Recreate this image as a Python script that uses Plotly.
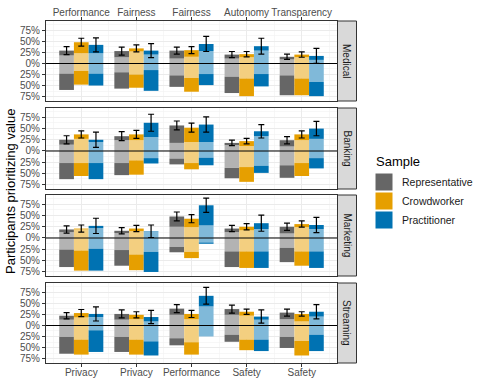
import plotly.graph_objects as go

# ---------------- data ----------------
domains = ["Medical", "Banking", "Marketing", "Streaming"]
top_values = ["Performance", "Fairness", "Fairness", "Autonomy", "Transparency"]
bottom_values = ["Privacy", "Privacy", "Performance", "Safety", "Safety"]
samples = ["Representative", "Crowdworker", "Practitioner"]

# rows = domains, columns = value pairs; percentages
# share prioritizing the top value (total), and its "light" (weaker) part
rep_top = [[29, 28, 29, 20, 15], [25, 33, 57, 18, 24], [19, 16, 48, 21, 25], [22, 26, 38, 37, 29]]
rep_top_light = [[18, 14, 11, 11, 9], [14, 24, 18, 13, 10], [13, 11, 25, 13, 10], [13, 13, 24, 24, 14]]
rep_bottom_light = [[23, 20, 27, 30, 27], [27, 27, 17, 38, 32], [26, 27, 20, 30, 22], [26, 26, 29, 21, 26]]
rep_bottom = [[60, 57, 53, 67, 72], [63, 54, 30, 61, 60], [65, 62, 32, 65, 54], [64, 60, 45, 37, 51]]
rep_err = [[9, 9, 8, 7, 6], [9, 10, 10, 6, 8], [8, 7, 10, 7, 8], [7, 9, 9, 9, 8]]

crowd_top = [[48, 34, 30, 21, 20], [37, 37, 52, 22, 37], [21, 21, 43, 25, 31], [28, 24, 26, 31, 26]]
crowd_top_light = [[23, 27, 15, 14, 14], [27, 24, 20, 11, 24], [19, 15, 24, 17, 24], [18, 14, 14, 22, 9]]
crowd_bottom_light = [[17, 25, 33, 34, 34], [27, 21, 27, 36, 27], [28, 37, 31, 30, 30], [32, 32, 38, 32, 35]]
crowd_bottom = [[48, 55, 64, 74, 72], [56, 53, 41, 69, 56], [73, 72, 45, 67, 62], [66, 66, 66, 56, 68]]
crowd_err = [[9, 8, 8, 6, 6], [8, 9, 10, 6, 8], [8, 7, 9, 7, 7], [8, 7, 8, 6, 5]]

prac_top = [[42, 29, 44, 39, 17], [25, 63, 59, 44, 50], [27, 15, 73, 33, 29], [26, 19, 67, 20, 31]]
prac_top_light = [[23, 20, 28, 29, 8], [20, 31, 20, 33, 27], [22, 14, 28, 20, 20], [19, 9, 43, 13, 20]]
prac_bottom_light = [[23, 15, 24, 24, 42], [27, 16, 15, 33, 16], [24, 31, 10, 30, 30], [11, 36, 25, 32, 21]]
prac_bottom = [[50, 62, 49, 52, 74], [63, 28, 32, 49, 39], [73, 76, 13, 67, 67], [60, 68, 25, 58, 58]]
prac_err = [[16, 16, 17, 18, 17], [17, 19, 17, 15, 16], [17, 14, 16, 18, 17], [16, 15, 19, 15, 16]]

series = {
    "Representative": (rep_top, rep_top_light, rep_bottom_light, rep_bottom, rep_err),
    "Crowdworker": (crowd_top, crowd_top_light, crowd_bottom_light, crowd_bottom, crowd_err),
    "Practitioner": (prac_top, prac_top_light, prac_bottom_light, prac_bottom, prac_err),
}
dark = {"Representative": "#666666", "Crowdworker": "#E69F00", "Practitioner": "#0072B2"}
light = {"Representative": "#B3B3B3", "Crowdworker": "#F3CF80", "Practitioner": "#80B9D9"}

ytick_vals = [-75, -50, -25, 0, 25, 50, 75]
ytick_text = ["75%", "50%", "25%", "0%", "25%", "50%", "75%"]

# ---------------- layout geometry (window pixels) ----------------
W, H = 479, 387
L, R, T, B = 46, 337, 21, 363
panel_px = [(21, 101), (108, 189), (195, 276), (283, 363)]


def px_x(p):
    return (p - L) / (R - L)


def px_y(p):
    return (B - p) / (B - T)


FONT = "Liberation Sans, Arial, sans-serif"
TICKFONT = dict(size=10, color="#4D4D4D", family=FONT)
xs = [1, 2, 3, 4, 5]
bw = 0.8 / 3
xrange = [0.36, 5.64]
yrange = [-85, 96]

fig = go.Figure()
layout = dict(
    template="none",
    width=W, height=H, autosize=False,
    margin=dict(l=L, r=W - R, t=T, b=H - B, pad=0, autoexpand=False),
    paper_bgcolor="white", plot_bgcolor="white",
    barmode="overlay", showlegend=False,
    font=dict(family=FONT, size=10, color="#4D4D4D"),
)
shapes = []
annotations = []

for r, dom in enumerate(domains):
    xa = "x" if r == 0 else f"x{r + 1}"
    ya = "y" if r == 0 else f"y{r + 1}"
    top_px, bot_px = panel_px[r]
    for s, name in enumerate(samples):
        top, tl, bl, bot, err = series[name]
        off = -0.4 + s * bw
        segs = [
            ([0] * 5, tl[r], light[name]),
            (tl[r], [top[r][i] - tl[r][i] for i in range(5)], dark[name]),
            ([0] * 5, [-v for v in bl[r]], light[name]),
            ([-v for v in bl[r]], [-(bot[r][i] - bl[r][i]) for i in range(5)], dark[name]),
        ]
        for base, yv, col in segs:
            fig.add_trace(go.Bar(
                x=xs, y=yv, base=base, width=bw, offset=off,
                marker=dict(color=col, line=dict(width=0)),
                xaxis=xa, yaxis=ya, name=name, hoverinfo="skip",
            ))
        fig.add_trace(go.Scatter(
            x=[x + off + bw / 2 for x in xs], y=top[r], mode="markers",
            marker=dict(size=1, opacity=0),
            error_y=dict(type="data", array=err[r], color="black", thickness=1.2, width=3),
            xaxis=xa, yaxis=ya, name=name, hoverinfo="skip",
        ))
    dom_y = [px_y(bot_px), px_y(top_px)]
    xkey = "xaxis" if r == 0 else f"xaxis{r + 1}"
    ykey = "yaxis" if r == 0 else f"yaxis{r + 1}"
    last = r == len(domains) - 1
    layout[xkey] = dict(
        domain=[0, 1], anchor=ya, range=xrange, fixedrange=True, automargin=False,
        tickvals=xs, ticktext=bottom_values if last else [""] * 5,
        showticklabels=last, ticks="outside" if last else "", ticklen=3,
        ticklabelstandoff=-3,
        tickcolor="#333333", tickfont=TICKFONT,
        showgrid=True, gridcolor="#EBEBEB", gridwidth=1,
        minor=dict(tick0=0.5, dtick=1, showgrid=True, gridcolor="#F2F2F2", gridwidth=0.6),
        showline=True, mirror=True, linecolor="#333333", linewidth=1, zeroline=False,
    )
    layout[ykey] = dict(
        domain=dom_y, anchor=xa, range=yrange, fixedrange=True, automargin=False,
        tickvals=ytick_vals, ticktext=ytick_text, ticks="outside", ticklen=3,
        tickcolor="#333333", tickfont=TICKFONT,
        showgrid=True, gridcolor="#EBEBEB", gridwidth=1,
        minor=dict(tick0=12.5, dtick=25, showgrid=True, gridcolor="#F2F2F2", gridwidth=0.6),
        showline=True, mirror=True, linecolor="#333333", linewidth=1, zeroline=False,
    )
    # zero reference line
    shapes.append(dict(type="line", xref=f"{xa} domain", yref=ya, x0=0, x1=1, y0=0, y1=0,
                       line=dict(color="black", width=1.1), layer="above"))
    # facet strip
    shapes.append(dict(type="rect", xref="paper", yref="paper",
                       x0=px_x(337.5), x1=px_x(356.5), y0=px_y(bot_px), y1=px_y(top_px),
                       fillcolor="#D9D9D9", line=dict(color="#333333", width=1), layer="above"))
    annotations.append(dict(text=dom, xref="paper", yref="paper",
                            x=px_x(347), y=px_y((top_px + bot_px) / 2), textangle=90,
                            showarrow=False, xanchor="center", yanchor="middle",
                            font=dict(size=10, color="#1A1A1A", family=FONT)))

# top axis with the first value of each pair
fig.add_trace(go.Scatter(x=xs, y=[None] * 5, mode="markers", xaxis="x5", yaxis="y",
                         marker=dict(opacity=0), hoverinfo="skip"))
layout["xaxis5"] = dict(
    overlaying="x", side="top", anchor="y", range=xrange, fixedrange=True, automargin=False,
    tickvals=xs, ticktext=top_values, ticks="outside", ticklen=3, tickcolor="#333333",
    ticklabelstandoff=-3,
    tickfont=TICKFONT, showgrid=False, zeroline=False, showline=False,
)

# y-axis title
annotations.append(dict(text="Participants prioritizing value", xref="paper", yref="paper",
                        x=px_x(10), y=px_y(192), textangle=-90, showarrow=False,
                        xanchor="center", yanchor="middle",
                        font=dict(size=13, color="black", family=FONT)))

# legend (drawn manually)
annotations.append(dict(text="Sample", xref="paper", yref="paper", x=px_x(374), y=px_y(162),
                        showarrow=False, xanchor="left", yanchor="middle",
                        font=dict(size=13, color="black", family=FONT)))
for i, name in enumerate(samples):
    y0 = 173 + i * 19
    shapes.append(dict(type="rect", xref="paper", yref="paper",
                       x0=px_x(375), x1=px_x(393), y0=px_y(y0 + 18), y1=px_y(y0),
                       fillcolor=dark[name], line=dict(color="white", width=1)))
    annotations.append(dict(text=name, xref="paper", yref="paper", x=px_x(400), y=px_y(y0 + 9),
                            showarrow=False, xanchor="left", yanchor="middle",
                            font=dict(size=10.5, color="#1A1A1A", family=FONT)))

layout["shapes"] = shapes
layout["annotations"] = annotations
fig.update_layout(**layout)
fig.write_html("out.html", config={"displayModeBar": False, "staticPlot": True},
               post_script="document.body.style.margin='0px';")
